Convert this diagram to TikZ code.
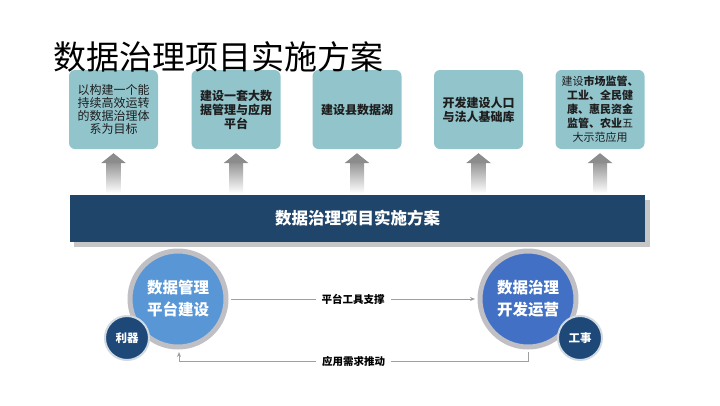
\documentclass[tikz,border=0pt]{standalone}
\usepackage{fontspec}
\setmainfont{Noto Sans CJK SC}
\usetikzlibrary{arrows.meta,calc}
\definecolor{teal1}{RGB}{146,196,204}
\definecolor{navy1}{RGB}{31,69,106}
\definecolor{navy2}{RGB}{30,72,120}
\definecolor{blueL}{RGB}{88,150,214}
\definecolor{blueR}{RGB}{66,112,196}
\definecolor{ring}{RGB}{192,192,196}
\definecolor{txt}{RGB}{30,30,30}
\tikzset{
  goalbox/.style={draw=none, fill=teal1, rounded corners=6pt, minimum width=89pt, minimum height=79pt,
    text width=84pt, align=center, text=txt, inner sep=0pt},
  bigcircle/.style={circle, draw=ring, line width=5pt, minimum size=96pt, inner sep=0pt,
    text=white, align=center, font=\fontsize{15.5}{22}\selectfont\bfseries},
  smallcircle/.style={circle, draw=white!80!navy1, line width=2pt, fill=navy2, minimum size=44pt,
    inner sep=0pt, text=white, font=\fontsize{11.5}{13}\selectfont\bfseries},
  conn/.style={draw=gray!75, line width=0.9pt},
  lbl/.style={fill=white, inner xsep=6pt, text=black, font=\fontsize{10.5}{12}\selectfont\bfseries},
}
\begin{document}
\begin{tikzpicture}[x=1pt,y=-1pt]
\useasboundingbox (0,0) rectangle (720,405);
% goal boxes
\node[goalbox, font=\fontsize{12}{13}\selectfont] (b1) at (113.5,109.5) {以构建一个能\\持续高效运转\\的数据治理体\\系为目标};
\node[goalbox, font=\fontsize{12}{14}\selectfont\bfseries] (b2) at (236,109.5) {建设一套大数\\据管理与应用\\平台};
\node[goalbox, font=\fontsize{12}{14}\selectfont\bfseries] (b3) at (357,109.5) {建设县数据湖};
\node[goalbox, font=\fontsize{12}{14}\selectfont\bfseries] (b4) at (478.5,109.5) {开发建设人口\\与法人基础库};
\node[goalbox, font=\fontsize{11}{14}\selectfont] (b5) at (600,109.5) {建设\textbf{市场监管、}\\\textbf{工业、全民健}\\\textbf{康、惠民资金}\\\textbf{监管、农业}五\\大示范应用};
% title
\node[anchor=west, inner sep=0pt, text=black, font=\fontsize{33}{36}\selectfont] (title) at (53,57) {数据治理项目实施方案};
% up arrows
\foreach \n in {b1,b2,b3,b4,b5}{
  \shade[top color=gray!85, bottom color=white] ([xshift=-7pt,yshift=-13pt]\n.south) rectangle ([xshift=7pt,yshift=-44pt]\n.south);
  \fill[gray!90] ([xshift=-12.5pt,yshift=-14pt]\n.south) -- ([yshift=-4pt]\n.south) -- ([xshift=12.5pt,yshift=-14pt]\n.south) -- cycle;
}
% bar
\fill[gray!45] (74,200) rectangle (650,247);
\node[fill=navy1, minimum width=575pt, minimum height=47pt, inner sep=0pt, text=white,
  font=\fontsize{16.5}{18}\selectfont\bfseries] (bar) at (357.5,218.5) {数据治理项目实施方案};
% circles
\node[bigcircle, fill=blueL] (c1) at (178,299) {数据管理\\平台建设};
\node[bigcircle, fill=blueR] (c2) at (528,299) {数据治理\\开发运营};
\node[smallcircle] (s1) at (127,338) {利器};
\node[smallcircle] (s2) at (580,338) {工事};
% connectors
\draw[conn, -{Stealth[length=5pt,width=4pt]}, shorten >=2.5pt, shorten <=2.5pt] (c1.east) -- node[lbl] (l1) {平台工具支撑} (c2.west);
\coordinate (r) at ([yshift=-12pt]c2.south);
\coordinate (l) at ([yshift=-12pt,xshift=1pt]c1.south);
\draw[conn, -{Stealth[length=5pt,width=4pt]}, shorten >=2.5pt, shorten <=2.5pt] (c2.south) -- (r) -- node[lbl] (l2) {应用需求推动} (l) -- ([xshift=1pt]c1.south);
\end{tikzpicture}
\end{document}
